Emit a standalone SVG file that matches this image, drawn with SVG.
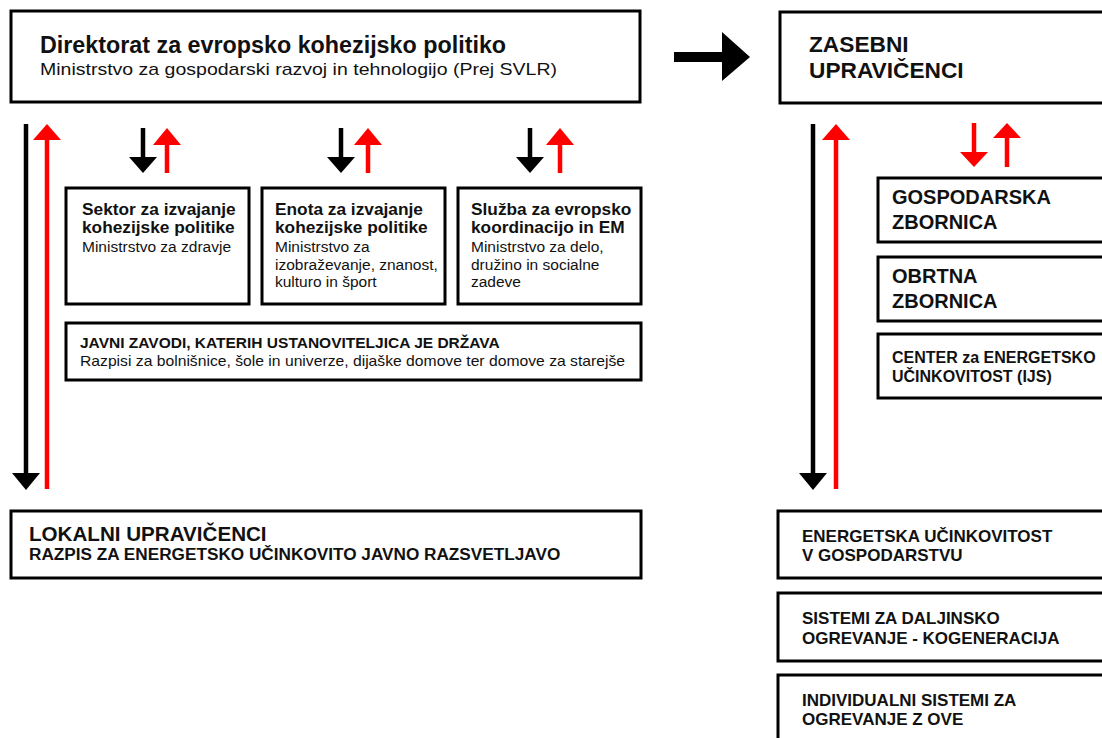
<svg xmlns="http://www.w3.org/2000/svg" width="1102" height="738" viewBox="0 0 1102 738">
<style>
.box{fill:#fff;stroke:#000;stroke-width:3}
text{font-family:"Liberation Sans",Arial,sans-serif;fill:#111}
.b{font-weight:bold}
.blk{stroke:#000;stroke-width:4.5;fill:none}
.red{stroke:#ff0000;stroke-width:4.5;fill:none}
.hb{fill:#000}
.hr{fill:#ff0000}
</style>
<rect width="1102" height="738" fill="#fff"/>
<g id="connectors">
  <rect x="674" y="52" width="50" height="10" class="hb"/>
  <polygon points="722,32 750,57 722,81" class="hb"/>
  <line x1="26" y1="124" x2="26" y2="476" class="blk"/>
  <polygon points="12,473 40,473 26,490" class="hb"/>
  <line x1="47" y1="138" x2="47" y2="489" class="red"/>
  <polygon points="33,140 61,140 47,124" class="hr"/>
  <line x1="813" y1="124" x2="813" y2="476" class="blk"/>
  <polygon points="799,473 827,473 813,490" class="hb"/>
  <line x1="836" y1="138" x2="836" y2="489" class="red"/>
  <polygon points="822,140 850,140 836,124" class="hr"/>
  <line x1="143" y1="128" x2="143" y2="159" class="blk"/>
  <polygon points="129,157 157,157 143,173" class="hb"/>
  <line x1="167" y1="143" x2="167" y2="173" class="red"/>
  <polygon points="153,145 181,145 167,128" class="hr"/>
  <line x1="341" y1="128" x2="341" y2="159" class="blk"/>
  <polygon points="327,157 355,157 341,173" class="hb"/>
  <line x1="368" y1="143" x2="368" y2="173" class="red"/>
  <polygon points="354,145 382,145 368,128" class="hr"/>
  <line x1="530" y1="128" x2="530" y2="159" class="blk"/>
  <polygon points="516,157 544,157 530,173" class="hb"/>
  <line x1="560" y1="143" x2="560" y2="173" class="red"/>
  <polygon points="546,145 574,145 560,128" class="hr"/>
  <line x1="974" y1="123" x2="974" y2="154" class="red"/>
  <polygon points="960,152 988,152 974,167" class="hr"/>
  <line x1="1007" y1="136" x2="1007" y2="167" class="red"/>
  <polygon points="993,138 1021,138 1007,123" class="hr"/>
</g>
<g id="direktorat">
  <rect x="11" y="11" width="629" height="91" class="box"/>
  <text x="40" y="53" class="b" font-size="23.3">Direktorat za evropsko kohezijsko politiko</text>
  <text x="40" y="75" font-size="17" textLength="517" lengthAdjust="spacingAndGlyphs">Ministrstvo za gospodarski razvoj in tehnologijo (Prej SVLR)</text>
</g>
<g id="zasebni">
  <rect x="780" y="12" width="340" height="91" class="box"/>
  <text x="809" y="52" class="b" font-size="22.7">ZASEBNI</text>
  <text x="809" y="78" class="b" font-size="22.7">UPRAVIČENCI</text>
</g>
<g id="sektor">
  <rect x="66" y="188" width="183" height="116" class="box"/>
  <text x="82" y="215" class="b" font-size="17.3">Sektor za izvajanje</text>
  <text x="82" y="233" class="b" font-size="17.3">kohezijske politike</text>
  <text x="82" y="252" font-size="15.5">Ministrstvo za zdravje</text>
</g>
<g id="enota">
  <rect x="262" y="188" width="183" height="116" class="box"/>
  <text x="275" y="215" class="b" font-size="17.3">Enota za izvajanje</text>
  <text x="275" y="233" class="b" font-size="17.3">kohezijske politike</text>
  <text x="275" y="252" font-size="15.5">Ministrstvo za</text>
  <text x="275" y="270" font-size="15.5">izobraževanje, znanost,</text>
  <text x="275" y="287" font-size="15.5">kulturo in šport</text>
</g>
<g id="sluzba">
  <rect x="458" y="188" width="183" height="116" class="box"/>
  <text x="471" y="215" class="b" font-size="17.3">Služba za evropsko</text>
  <text x="471" y="233" class="b" font-size="17.3">koordinacijo in EM</text>
  <text x="471" y="252" font-size="15.5">Ministrstvo za delo,</text>
  <text x="471" y="270" font-size="15.5">družino in socialne</text>
  <text x="471" y="287" font-size="15.5">zadeve</text>
</g>
<g id="javni">
  <rect x="66" y="323" width="575" height="57" class="box"/>
  <text x="80" y="348" class="b" font-size="15.5">JAVNI ZAVODI, KATERIH USTANOVITELJICA JE DRŽAVA</text>
  <text x="80" y="366" font-size="14.8" textLength="545" lengthAdjust="spacingAndGlyphs">Razpisi za bolnišnice, šole in univerze, dijaške domove ter domove za starejše</text>
</g>
<g id="lokalni">
  <rect x="11" y="511" width="630" height="67" class="box"/>
  <text x="29" y="541" class="b" font-size="20.6">LOKALNI UPRAVIČENCI</text>
  <text x="29" y="560" class="b" font-size="17.2">RAZPIS ZA ENERGETSKO UČINKOVITO JAVNO RAZSVETLJAVO</text>
</g>
<g id="gospodarska">
  <rect x="878" y="178" width="240" height="64" class="box"/>
  <text x="892" y="204" class="b" font-size="20">GOSPODARSKA</text>
  <text x="892" y="229" class="b" font-size="20">ZBORNICA</text>
</g>
<g id="obrtna">
  <rect x="878" y="257" width="240" height="64" class="box"/>
  <text x="892" y="283" class="b" font-size="20">OBRTNA</text>
  <text x="892" y="308" class="b" font-size="20">ZBORNICA</text>
</g>
<g id="center">
  <rect x="878" y="334" width="240" height="64" class="box"/>
  <text x="892" y="363" class="b" font-size="16">CENTER za ENERGETSKO</text>
  <text x="892" y="382" class="b" font-size="16">UČINKOVITOST (IJS)</text>
</g>
<g id="energetska">
  <rect x="778" y="511" width="340" height="67" class="box"/>
  <text x="802" y="542" class="b" font-size="17">ENERGETSKA UČINKOVITOST</text>
  <text x="802" y="561" class="b" font-size="17">V GOSPODARSTVU</text>
</g>
<g id="sistemi">
  <rect x="778" y="593" width="340" height="68" class="box"/>
  <text x="802" y="624" class="b" font-size="17">SISTEMI ZA DALJINSKO</text>
  <text x="802" y="644" class="b" font-size="17">OGREVANJE - KOGENERACIJA</text>
</g>
<g id="individualni">
  <rect x="778" y="675" width="340" height="75" class="box"/>
  <text x="802" y="706" class="b" font-size="17">INDIVIDUALNI SISTEMI ZA</text>
  <text x="802" y="725" class="b" font-size="17">OGREVANJE Z OVE</text>
</g>
</svg>
